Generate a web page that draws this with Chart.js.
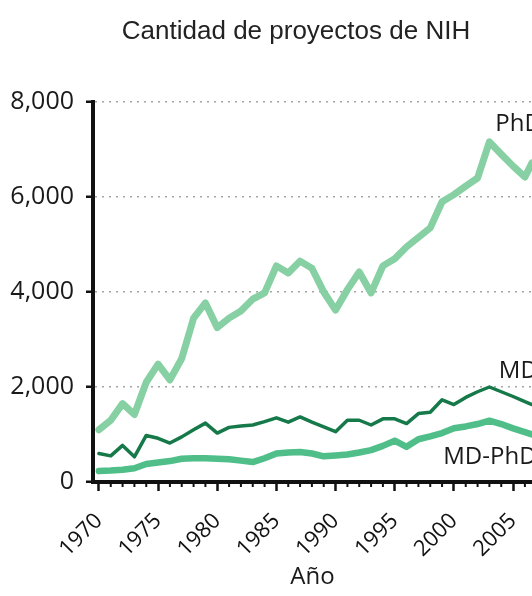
<!DOCTYPE html>
<html>
<head>
<meta charset="utf-8">
<script src="https://cdn.jsdelivr.net/npm/chart.js@4"></script>
<style>
  html, body { margin: 0; padding: 0; background: #fff; }
</style>
</head>
<body>
<canvas id="chart" width="532" height="596"></canvas>
<script>
// años (el último punto es el borde derecho recortado)
const years = [1970, 1971, 1972, 1973, 1974, 1975, 1976, 1977, 1978, 1979,
               1980, 1981, 1982, 1983, 1984, 1985, 1986, 1987, 1988, 1989,
               1990, 1991, 1992, 1993, 1994, 1995, 1996, 1997, 1998, 1999,
               2000, 2001, 2002, 2003, 2004, 2005, 2006, 2006.6];

const phd = [1100, 1300, 1650, 1420, 2100, 2480, 2150, 2600, 3450, 3770,
             3250, 3450, 3600, 3850, 3980, 4550, 4400, 4650, 4500, 4000,
             3620, 4050, 4420, 3980, 4550, 4700, 4950, 5150, 5350, 5900,
             6050, 6230, 6400, 7160, 6900, 6650, 6420, 6720];

const md = [600, 550, 770, 530, 980, 920, 820, 950, 1100, 1240,
            1030, 1150, 1180, 1200, 1270, 1350, 1260, 1370, 1260, 1160,
            1060, 1300, 1300, 1200, 1330, 1330, 1230, 1440, 1470, 1730,
            1630, 1780, 1900, 2000, 1900, 1800, 1690, 1630];

const mdPhd = [230, 240, 260, 290, 380, 410, 440, 490, 500, 500,
               490, 480, 450, 420, 500, 600, 620, 630, 600, 540,
               560, 580, 620, 670, 760, 870, 740, 900, 960, 1030,
               1130, 1170, 1220, 1290, 1220, 1130, 1050, 1000];

const seriesNames = ["PhD", "MD", "MD-PhD"];
const tagYears = [2003.5, 2003.8, 1999.1];
const tagValues = [7540, 2340, 530];

const yMin = 0, yMax = 8000, yStep = 2000;
const xMin = 1969.5, xMax = 2006.6;

const titleText = "Cantidad de proyectos de NIH";
const tickFont = { family: "Open Sans", size: 25 };

function pts(values) {
    return years.map(function (y, i) { return { x: y, y: values[i] }; });
}

const chartTitle = {
    id: "chartTitle",
    afterDraw: function (chart) {
        const ctx = chart.ctx;
        ctx.save();
        ctx.font = "26px 'Liberation Sans', Arial, sans-serif";
        ctx.fillStyle = "#222";
        ctx.textAlign = "center";
        ctx.textBaseline = "middle";
        ctx.fillText(titleText, 296, 32);
        ctx.restore();
    }
};

const minorTicks = {
    id: "minorTicks",
    afterDraw: function (chart) {
        const x = chart.scales.x;
        const ctx = chart.ctx;
        ctx.save();
        ctx.strokeStyle = "#111";
        ctx.lineWidth = 2;
        for (let yr = Math.ceil(xMin); yr <= xMax; yr++) {
            if (yr % 5 === 0) continue;
            const px = x.getPixelForValue(yr);
            ctx.beginPath();
            ctx.moveTo(px, x.top);
            ctx.lineTo(px, x.top + 5);
            ctx.stroke();
        }
        ctx.restore();
    }
};

const seriesTags = {
    id: "seriesTags",
    afterDraw: function (chart) {
        const ctx = chart.ctx;
        const xs = chart.scales.x, ys = chart.scales.y;
        ctx.save();
        ctx.font = "24px 'Open Sans'";
        ctx.fillStyle = "#1a1a1a";
        ctx.textAlign = "left";
        ctx.textBaseline = "middle";
        seriesNames.forEach(function (name, i) {
            ctx.fillText(name, xs.getPixelForValue(tagYears[i]), ys.getPixelForValue(tagValues[i]));
        });
        ctx.restore();
    }
};

new Chart(document.getElementById("chart"), {
    type: "line",
    data: {
        datasets: [
            { label: seriesNames[0], data: pts(phd), borderColor: "#86d0a3", borderWidth: 7 },
            { label: seriesNames[1], data: pts(md), borderColor: "#16794a", borderWidth: 3.5 },
            { label: seriesNames[2], data: pts(mdPhd), borderColor: "#4fbe88", borderWidth: 6.5 }
        ]
    },
    options: {
        responsive: false,
        animation: false,
        layout: { padding: { top: 102, left: 0, right: 0, bottom: 0 } },
        elements: {
            point: { radius: 0 },
            line: { tension: 0, borderJoinStyle: "round", borderCapStyle: "round" }
        },
        plugins: {
            legend: { display: false },
            tooltip: { enabled: false }
        },
        scales: {
            x: {
                type: "linear",
                min: xMin,
                max: xMax,
                afterFit: function (s) {
                    s.height = 114;
                    s.paddingLeft = 0;
                    s.paddingRight = 0;
                },
                ticks: {
                    stepSize: 1,
                    autoSkip: false,
                    includeBounds: false,
                    minRotation: 45,
                    maxRotation: 45,
                    padding: 17,
                    color: "#111",
                    font: { family: "Open Sans", size: 22 },
                    callback: function (v) {
                        const r = Math.round(v);
                        return r % 5 === 0 ? String(r) : "";
                    }
                },
                grid: {
                    drawOnChartArea: false,
                    tickLength: 9,
                    tickWidth: 2.5,
                    tickBorderDash: [],
                    tickColor: function (c) {
                        return c.tick && Math.round(c.tick.value) % 5 === 0 ? "#111" : "rgba(0,0,0,0)";
                    }
                },
                border: { color: "#111", width: 4 },
                title: {
                    display: true,
                    text: "Año",
                    color: "#1a1a1a",
                    font: { family: "Open Sans", size: 24 },
                    padding: { top: 0, bottom: 4 }
                }
            },
            y: {
                min: yMin,
                max: yMax,
                afterFit: function (s) {
                    s.width = 93;
                    s.paddingTop = 0;
                    s.paddingBottom = 0;
                },
                ticks: {
                    stepSize: yStep,
                    padding: 12,
                    color: "#1a1a1a",
                    font: tickFont,
                    callback: function (v) { return v.toLocaleString("en-US"); }
                },
                grid: {
                    color: function (c) {
                        return c.tick && c.tick.value === 0 ? "rgba(0,0,0,0)" : "#a6a6a6";
                    },
                    lineWidth: 1.5,
                    tickLength: 7,
                    tickWidth: 2.5,
                    tickColor: "#111",
                    tickBorderDash: []
                },
                border: { color: "#111", width: 4, dash: [2, 5] }
            }
        }
    },
    plugins: [chartTitle, minorTicks, seriesTags]
});
</script>
</body>
</html>
